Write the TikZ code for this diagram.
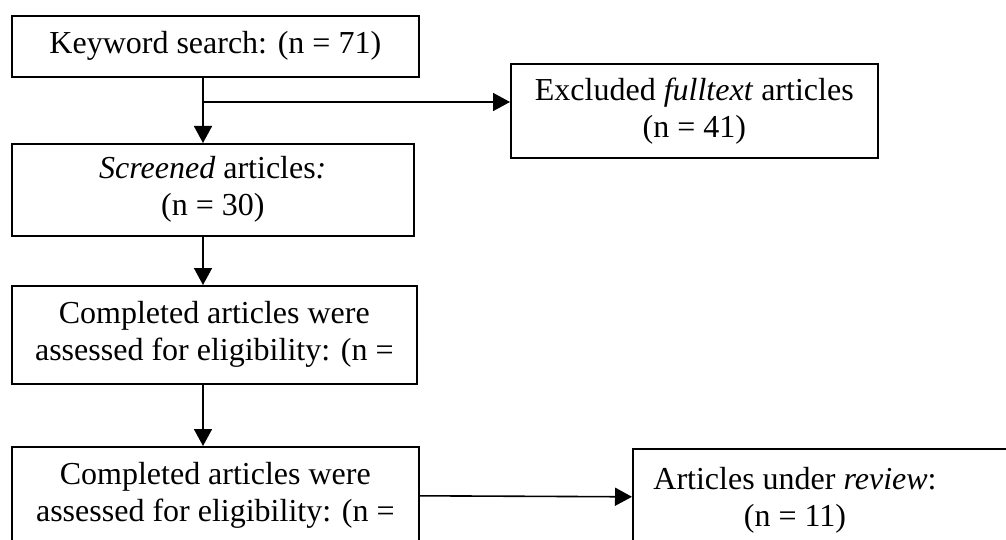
\documentclass[tikz,border=0pt]{standalone}
\usepackage{fontspec}
\setmainfont{Liberation Serif}
\usetikzlibrary{arrows.meta}

\tikzset{
  flowbox/.style={draw,anchor=north west,inner sep=0,align=center,font=\fontsize{16}{18.5}\selectfont},
  flowtext/.style={align=center,inner sep=0,font=\fontsize{16}{18.5}\selectfont},
  flowarrow/.style={-{Triangle[length=8.5pt,width=9pt]}}
}

\begin{document}
\begin{tikzpicture}[thick,x=0.5pt,y=-0.5pt]

  \useasboundingbox (0,0) rectangle (1006,540);
  \clip (0,0) rectangle (1006,540);

  % Boxes
  \node[flowbox,minimum width=203.5pt,minimum height=30.5pt] (kw) at (11,15) {Keyword search: (n = 71)};
  \node[flowbox,minimum width=201pt,minimum height=46pt] (screen) at (11,143) {\textit{Screened} articles\textit{:}\\(n = 30)};
  \node[flowbox,minimum width=202.5pt,minimum height=49pt] (elig1) at (11,285) {Completed articles were\\assessed for eligibility: (n =};
  \node[flowbox,minimum width=203.5pt,minimum height=49pt] (elig2) at (11,446) {Completed articles were\\assessed for eligibility: (n =};
  \node[flowbox,minimum width=183.5pt,minimum height=47pt] (excl) at (510,63) {Excluded \textit{fulltext} articles\\(n = 41)};
  \node[flowbox,minimum width=190pt,minimum height=48pt] (review) at (632,448) {};
  \node[flowtext] (reviewtext) at (795,500) {Articles under \textit{review}:\\(n = 11)};

  % Arrows
  \coordinate (spine) at (203,0);
  \coordinate (split) at (203,102);
  \draw[flowarrow] (kw.south -| spine) -- (screen.north -| spine);
  \draw[flowarrow] (split) -- (split -| excl.west);
  \draw[flowarrow] (screen.south -| spine) -- (elig1.north -| spine);
  \draw[flowarrow] (elig1.south -| spine) -- (elig2.north -| spine);
  \draw[flowarrow] (elig2.east) -- (review.west);

\end{tikzpicture}
\end{document}
